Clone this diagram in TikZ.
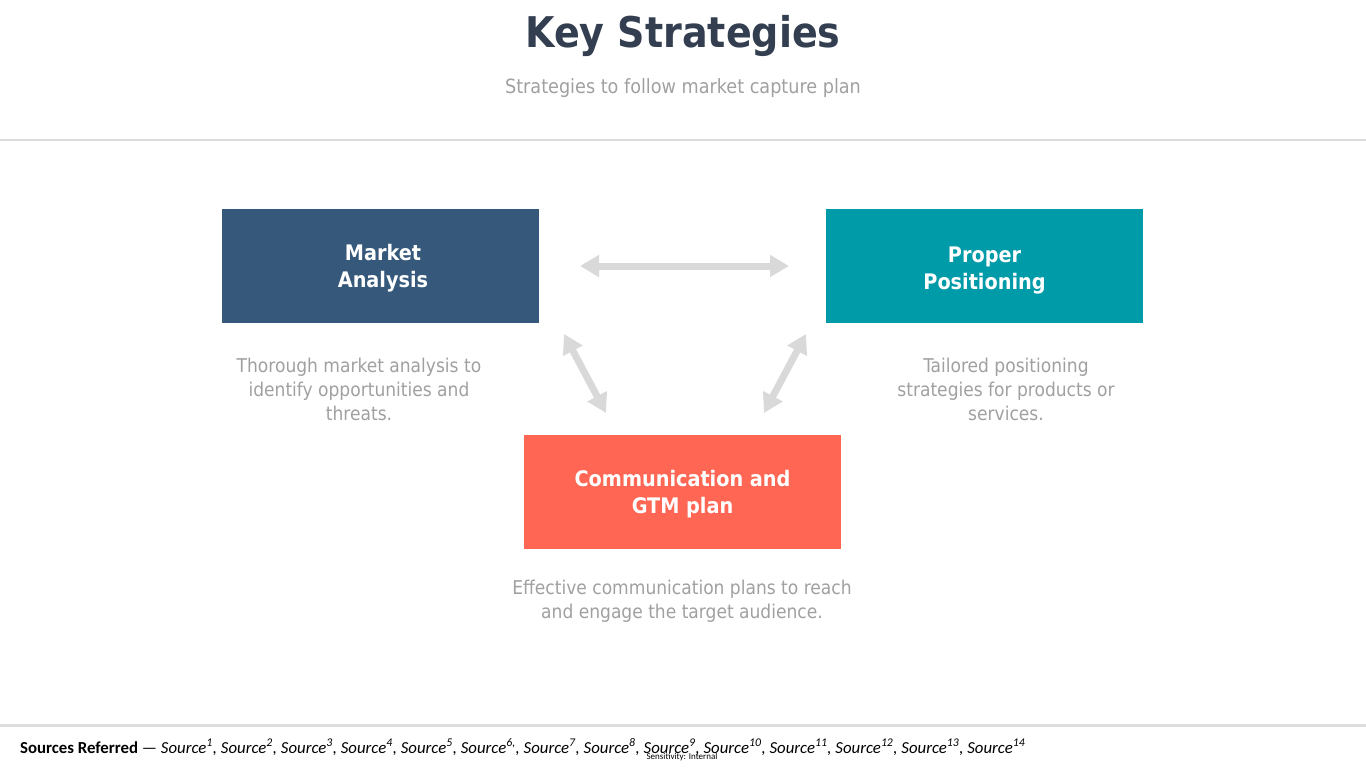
\documentclass[tikz,border=0pt]{standalone}
\usepackage{fontspec}
\setmainfont{DejaVu Sans Condensed}
\newfontfamily\footfont[Ligatures=TeX]{Carlito}
\usetikzlibrary{arrows.meta}
\definecolor{titlecol}{HTML}{333F50}
\definecolor{subcol}{HTML}{A0A0A0}
\definecolor{rulecol}{HTML}{DDDDDD}
\definecolor{arrowcol}{HTML}{D9D9D9}
\definecolor{bluebox}{HTML}{35587B}
\definecolor{tealbox}{HTML}{009BA8}
\definecolor{coralbox}{HTML}{FF6654}
\tikzset{
  stratbox/.style={minimum width=317pt,minimum height=114pt,inner sep=0pt},
  boxlabel/.style={text=white,align=center,font=\bfseries\fontsize{21.4}{27}\selectfont},
  desctext/.style={text=subcol,align=center,font=\fontsize{19}{24}\selectfont},
  linkarrow/.style={draw=arrowcol,line width=7pt,
    {Triangle[width=21pt,length=19pt]}-{Triangle[width=21pt,length=19pt]}}
}
\begin{document}
\begin{tikzpicture}[x=1pt,y=-1pt]
\useasboundingbox (0,0) rectangle (1366,768);
%.............................
\node[text=titlecol,font=\bfseries\fontsize{42.3}{50}\selectfont] (title) at (683,36) {Key Strategies};
\node[text=subcol,font=\fontsize{19.6}{24}\selectfont] (subtitle) at (683,88) {Strategies to follow market capture plan};
\draw[rulecol,line width=2pt] (0,140)--(1366,140);
%.............................
\node[stratbox,fill=bluebox] (market) at (380.5,266) {};
\node[stratbox,fill=tealbox] (proper) at (984.5,266) {};
\node[stratbox,fill=coralbox] (comm) at (682.5,491.5) {};
\node[boxlabel] (marketlabel) at (383,268) {Market\\Analysis};
\node[boxlabel] (properlabel) at (984.5,271) {Proper\\Positioning};
\node[boxlabel] (commlabel) at (682.5,494) {Communication and\\GTM plan};
%.............................
\node[desctext] (marketdesc) at (359,389) {Thorough market analysis to\\identify opportunities and\\threats.};
\node[desctext] (properdesc) at (1006,389) {Tailored positioning\\strategies for products or\\services.};
\node[desctext] (commdesc) at (682,601) {Effective communication plans to reach\\and engage the target audience.};
%.............................
\coordinate (h1) at (580,266);
\coordinate (h2) at (789,266);
\coordinate (l1) at (564,334);
\coordinate (l2) at (606,413);
\coordinate (r1) at (806,334);
\coordinate (r2) at (764,413);
\draw[linkarrow] (h1)--(h2);
\draw[linkarrow] (l1)--(l2);
\draw[linkarrow] (r1)--(r2);
%.............................
\draw[rulecol,line width=3pt] (0,725)--(1366,725);
\node[anchor=base west,inner sep=0pt,font=\footfont\fontsize{16.8}{18}\selectfont] (sources) at (20,753)
  {\textbf{Sources Referred} — \itshape Source\textsuperscript{1}, Source\textsuperscript{2}, Source\textsuperscript{3}, Source\textsuperscript{4}, Source\textsuperscript{5}, Source\textsuperscript{6,}, Source\textsuperscript{7}, Source\textsuperscript{8}, Source\textsuperscript{9}, Source\textsuperscript{10}, Source\textsuperscript{11}, Source\textsuperscript{12}, Source\textsuperscript{13}, Source\textsuperscript{14}};
\node[inner sep=0pt,font=\footfont\fontsize{9}{10}\selectfont] (sensitivity) at (682,757) {Sensitivity: Internal};
\end{tikzpicture}
\end{document}
